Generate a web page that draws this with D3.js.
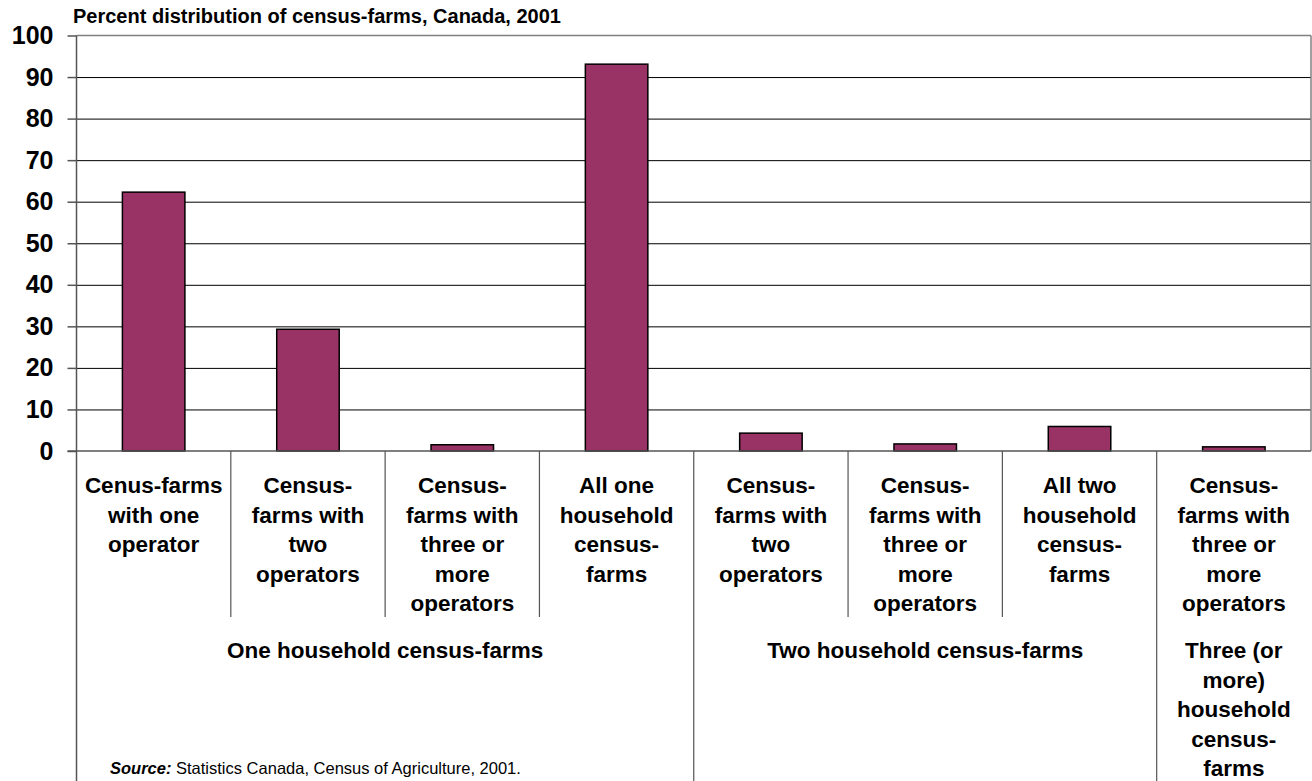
<!DOCTYPE html>
<html>
<head>
<meta charset="utf-8">
<script src="https://cdn.jsdelivr.net/npm/d3@7"></script>
<style>
  body { margin: 0; background: #fff; }
  text { font-family: Arial, "Liberation Sans", sans-serif; }
</style>
</head>
<body>
<div id="chart"></div>
<script>
const chartTitle = 'Percent distribution of census-farms, Canada, 2001';
const categoryLabels = [
  ['Cenus-farms', 'with one', 'operator'],
  ['Census-', 'farms with', 'two', 'operators'],
  ['Census-', 'farms with', 'three or', 'more', 'operators'],
  ['All one', 'household', 'census-', 'farms'],
  ['Census-', 'farms with', 'two', 'operators'],
  ['Census-', 'farms with', 'three or', 'more', 'operators'],
  ['All two', 'household', 'census-', 'farms'],
  ['Census-', 'farms with', 'three or', 'more', 'operators'],
];
const values = [62.3, 29.3, 1.5, 93.1, 4.3, 1.7, 5.9, 1.0];
const groupLabels = [
  ['One household census-farms'],
  ['Two household census-farms'],
  ['Three (or', 'more)', 'household', 'census-', 'farms'],
];
const groupSpans = [[0, 4], [4, 7], [7, 8]];
const yTicks = [0, 10, 20, 30, 40, 50, 60, 70, 80, 90, 100];

const W = 1312, H = 781;
const margin = { top: 35.5, left: 76.5, right: 1, bottom: 330 };
const plotW = W - margin.left - margin.right;
const plotH = H - margin.top - margin.bottom;

const svg = d3.select('#chart').append('svg')
  .attr('width', W).attr('height', H);

const idx = d3.range(categoryLabels.length);
const x = d3.scaleBand().domain(idx).range([margin.left, margin.left + plotW]);
const y = d3.scaleLinear().domain([0, 100]).range([margin.top + plotH, margin.top]);
const barW = x.bandwidth() * 0.405;

// title
svg.append('text')
  .attr('x', 73).attr('y', 23)
  .style('font-size', '20px').style('font-weight', 'bold')
  .text(chartTitle);

// gridlines
svg.append('g')
  .attr('transform', `translate(${margin.left},0)`)
  .call(d3.axisLeft(y).tickValues(yTicks.slice(1, -1)).tickSize(-plotW).tickFormat(''))
  .call(g => g.select('.domain').remove())
  .selectAll('line').attr('stroke', '#000').attr('stroke-width', 1);

// plot border top / right
svg.append('line')
  .attr('x1', margin.left).attr('x2', margin.left + plotW)
  .attr('y1', y(100)).attr('y2', y(100))
  .attr('stroke', '#808080').attr('stroke-width', 1.5);
svg.append('line')
  .attr('x1', margin.left + plotW).attr('x2', margin.left + plotW)
  .attr('y1', y(100)).attr('y2', y(0))
  .attr('stroke', '#808080').attr('stroke-width', 1.5);

// y axis
const yAxis = svg.append('g')
  .attr('transform', `translate(${margin.left},0)`)
  .call(d3.axisLeft(y).tickValues(yTicks).tickSize(9).tickPadding(14));
yAxis.select('.domain').remove();
yAxis.selectAll('line').attr('stroke', '#555').attr('stroke-width', 1.5);
yAxis.selectAll('text')
  .attr('fill', '#000')
  .style('font-size', '25px').style('font-weight', 'bold')
  .style('font-family', 'Arial, "Liberation Sans", sans-serif');

// bars
svg.append('g').selectAll('rect')
  .data(values)
  .join('rect')
  .attr('x', (d, i) => x(i) + (x.bandwidth() - barW) / 2)
  .attr('y', d => y(d))
  .attr('width', barW)
  .attr('height', d => y(0) - y(d))
  .attr('fill', '#993366')
  .attr('stroke', '#000')
  .attr('stroke-width', 1.5);

// baseline and left axis line
svg.append('line')
  .attr('x1', margin.left - 9).attr('x2', margin.left + plotW)
  .attr('y1', y(0)).attr('y2', y(0))
  .attr('stroke', '#555').attr('stroke-width', 1.5);
svg.append('line')
  .attr('x1', margin.left).attr('x2', margin.left)
  .attr('y1', y(100)).attr('y2', H)
  .attr('stroke', '#555').attr('stroke-width', 1.5);

// category dividers
const rowBottom = 617;
const groupEdges = groupSpans.map(s => s[1]);
svg.append('g').selectAll('line')
  .data(d3.range(1, categoryLabels.length))
  .join('line')
  .attr('x1', d => x(d)).attr('x2', d => x(d))
  .attr('y1', y(0)).attr('y2', d => groupEdges.includes(d) ? H : rowBottom)
  .attr('stroke', '#555').attr('stroke-width', 1.2);

// category labels
const lineH = 29.5;
svg.append('g').selectAll('text')
  .data(categoryLabels)
  .join('text')
  .attr('text-anchor', 'middle')
  .style('font-size', '22.5px').style('font-weight', 'bold')
  .each(function (lines, i) {
    d3.select(this).selectAll('tspan')
      .data(lines)
      .join('tspan')
      .attr('x', x(i) + x.bandwidth() / 2)
      .attr('y', (l, j) => 493 + j * lineH)
      .text(l => l);
  });

// group labels
svg.append('g').selectAll('text')
  .data(groupLabels)
  .join('text')
  .attr('text-anchor', 'middle')
  .style('font-size', '22.5px').style('font-weight', 'bold')
  .each(function (lines, i) {
    const [s, e] = groupSpans[i];
    const cx = (x(s) + x(e - 1) + x.bandwidth()) / 2;
    d3.select(this).selectAll('tspan')
      .data(lines)
      .join('tspan')
      .attr('x', cx)
      .attr('y', (l, j) => 658 + j * lineH)
      .text(l => l);
  });

// source note
const src = svg.append('text')
  .attr('x', 110).attr('y', 774)
  .style('font-size', '16.5px');
src.append('tspan').style('font-weight', 'bold').style('font-style', 'italic').text('Source:');
src.append('tspan').text(' Statistics Canada, Census of Agriculture, 2001.');
</script>
</body>
</html>
